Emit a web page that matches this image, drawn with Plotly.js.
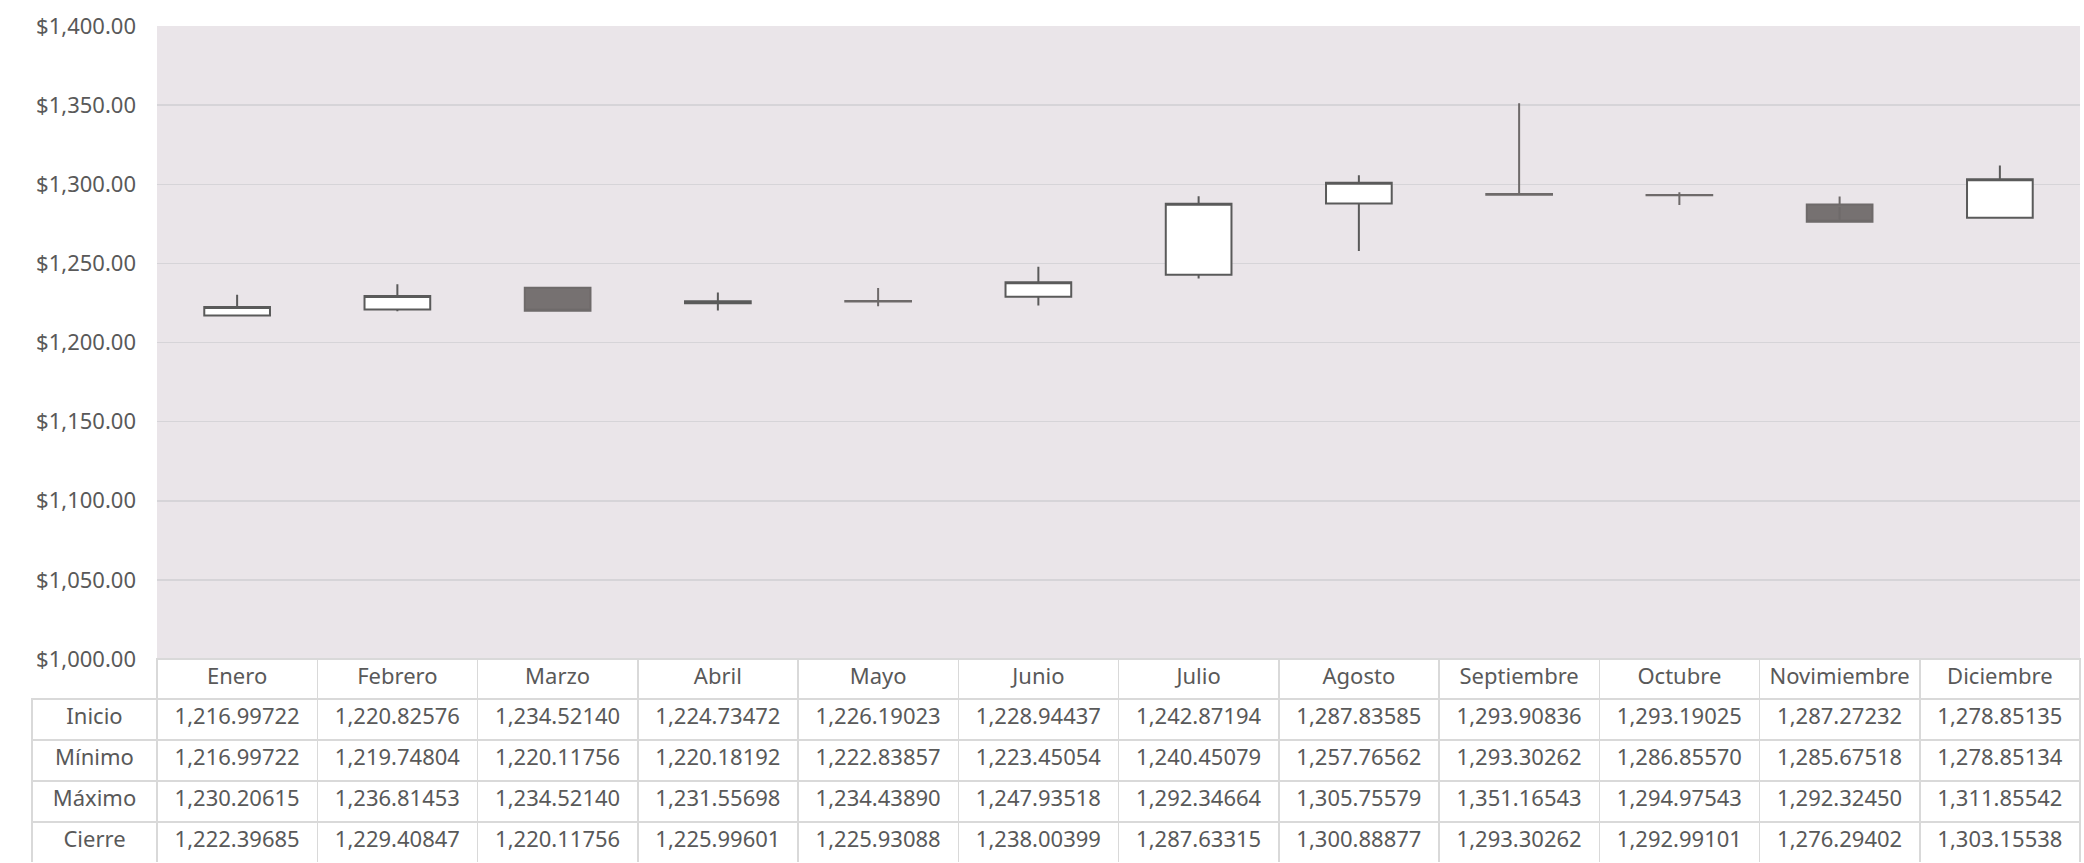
<!DOCTYPE html>
<html>
<head>
<meta charset="utf-8">
<script src="https://cdn.plot.ly/plotly-3.0.1.min.js"></script>
<style>
  html, body { margin: 0; padding: 0; background: #ffffff; }
  #chart { width: 2084px; height: 863px; }
</style>
</head>
<body>
<div id="chart"></div>
<script>
// ---- Data ----
const months = ['Enero', 'Febrero', 'Marzo', 'Abril', 'Mayo', 'Junio', 'Julio', 'Agosto', 'Septiembre', 'Octubre', 'Novimiembre', 'Diciembre'];
const rowLabels = ['Inicio', 'Mínimo', 'Máximo', 'Cierre'];
const inicio = [1216.99722, 1220.82576, 1234.52140, 1224.73472, 1226.19023, 1228.94437, 1242.87194, 1287.83585, 1293.90836, 1293.19025, 1287.27232, 1278.85135];
const minimo = [1216.99722, 1219.74804, 1220.11756, 1220.18192, 1222.83857, 1223.45054, 1240.45079, 1257.76562, 1293.30262, 1286.85570, 1285.67518, 1278.85134];
const maximo = [1230.20615, 1236.81453, 1234.52140, 1231.55698, 1234.43890, 1247.93518, 1292.34664, 1305.75579, 1351.16543, 1294.97543, 1292.32450, 1311.85542];
const cierre = [1222.39685, 1229.40847, 1220.11756, 1225.99601, 1225.93088, 1238.00399, 1287.63315, 1300.88877, 1293.30262, 1292.99101, 1276.29402, 1303.15538];

// ---- Layout geometry (pixels of the 2084x863 page) ----
const W = 2084, H = 863;
const plotL = 157, plotR = 2080, plotT = 26, plotB = 659;
const tableL = 32;

const FONT = "'Noto Sans', 'Open Sans', sans-serif";
const TXT = '#595959';
const GRID = '#d6d4d8';

const candle = {
  type: 'candlestick',
  x: months,
  open: inicio,
  high: maximo,
  low: minimo,
  close: cierre,
  increasing: { line: { color: '#5a5a5a', width: 2 }, fillcolor: '#ffffff' },
  decreasing: { line: { color: '#6e6a6a', width: 2 }, fillcolor: '#767171' },
  whiskerwidth: 0,
  hoverinfo: 'skip',
  showlegend: false,
  xaxis: 'x', yaxis: 'y'
};

const nCols = months.length;
const monthColW = (plotR - plotL) / nCols;
const cellCols = [rowLabels].concat(months.map((m, i) => [inicio[i], minimo[i], maximo[i], cierre[i]]));
const headerVals = [''].concat(months);
const lineCols = ['#d9d9d9'].concat(months.map(() => '#d9d9d9'));
const headerLine = ['rgba(0,0,0,0)'].concat(months.map(() => '#d9d9d9'));
const headerFill = ['rgba(0,0,0,0)'].concat(months.map(() => '#ffffff'));

const table = {
  type: 'table',
  domain: { x: [tableL / W, plotR / W], y: [0, 1 - plotB / H] },
  columnwidth: [plotL - tableL].concat(months.map(() => monthColW)),
  header: {
    values: headerVals,
    align: 'center',
    height: 40,
    line: { color: headerLine, width: 1.5 },
    fill: { color: headerFill },
    font: { family: FONT, size: 22, color: TXT }
  },
  cells: {
    values: cellCols,
    format: [''].concat(months.map(() => ',.5f')),
    align: 'center',
    height: 41,
    line: { color: lineCols, width: 1.5 },
    fill: { color: '#ffffff' },
    font: { family: FONT, size: 22, color: TXT }
  }
};

const layout = {
  width: W,
  height: H,
  margin: { l: 0, r: 0, t: 0, b: 0 },
  paper_bgcolor: '#ffffff',
  plot_bgcolor: '#eae5e9',
  font: { family: FONT, color: TXT },
  showlegend: false,
  hovermode: false,
  xaxis: {
    type: 'category',
    domain: [plotL / W, plotR / W],
    range: [-0.5, nCols - 0.5],
    showticklabels: false,
    showgrid: false,
    zeroline: false,
    showline: false,
    ticks: '',
    fixedrange: true,
    rangeslider: { visible: false }
  },
  yaxis: {
    domain: [1 - plotB / H, 1 - plotT / H],
    range: [1000, 1400],
    dtick: 50,
    tick0: 1000,
    tickformat: '$,.2f',
    tickfont: { family: FONT, size: 22, color: TXT },
    ticks: '',
    ticklabelstandoff: 20,
    showgrid: true,
    gridcolor: GRID,
    gridwidth: 1.5,
    zeroline: false,
    showline: false,
    fixedrange: true
  },
  boxgap: 0.59,
  boxgroupgap: 0
};

Plotly.newPlot('chart', [candle, table], layout, { displayModeBar: false, staticPlot: true });
</script>
</body>
</html>
